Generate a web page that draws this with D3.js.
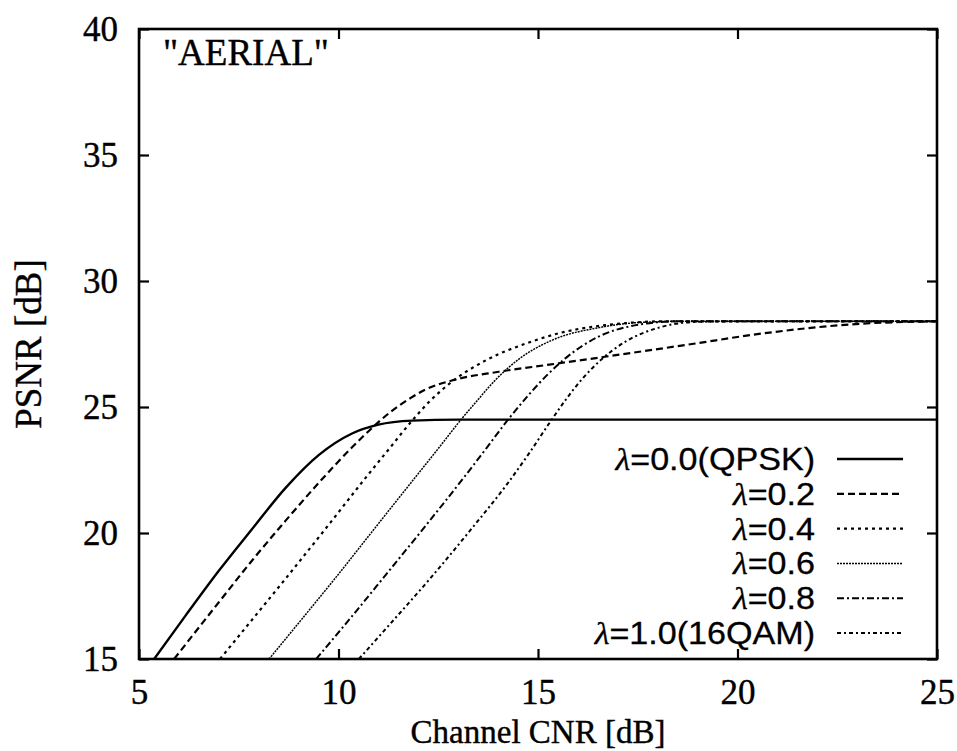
<!DOCTYPE html>
<html>
<head>
<meta charset="utf-8">
<script src="https://cdn.jsdelivr.net/npm/d3@7/dist/d3.min.js"></script>
<style>
  html, body { margin: 0; padding: 0; background: #fff; }
  svg { display: block; }
</style>
</head>
<body>
<svg id="chart" width="957" height="751"></svg>
<script>
// Channel CNR [dB] vs PSNR [dB] for the "AERIAL" image, one curve per lambda
const xTicks = [5, 10, 15, 20, 25];
const yTicks = [15, 20, 25, 30, 35, 40];

const seriesLabels = ["=0.0(QPSK)", "=0.2", "=0.4", "=0.6", "=0.8", "=1.0(16QAM)"];

const lambda00 = [[5.38,15.0],[6.18,16.75],[7.0,18.5],[7.83,20.15],[8.68,21.8],[9.51,23.1],[10.34,23.95],[11.0,24.3],[11.85,24.46],[13.0,24.5],[25,24.5]];
const lambda02 = [[5.88,15.0],[7.0,17.25],[7.83,18.9],[8.68,20.5],[9.51,22.0],[10.34,23.4],[10.76,24.05],[11.3,24.8],[11.8,25.35],[12.19,25.7],[12.84,26.05],[14.02,26.4],[15.28,26.68],[16.53,26.96],[18.86,27.5],[20.54,27.9],[23.05,28.3],[25,28.4]];
const lambda04 = [[7.03,15.0],[7.83,16.55],[8.68,18.2],[9.69,20.2],[10.71,22.25],[11.3,23.4],[11.84,24.45],[12.3,25.25],[12.84,26.0],[13.69,26.85],[14.85,27.6],[15.53,27.93],[16.53,28.22],[17.2,28.33],[18.2,28.4],[25,28.4]];
const lambda06 = [[8.26,15.0],[9.09,16.6],[9.94,18.25],[10.94,20.25],[11.97,22.3],[12.5,23.35],[13.02,24.4],[13.5,25.3],[13.95,26.1],[14.52,26.9],[15.35,27.65],[16.53,28.15],[17.5,28.35],[18.5,28.4],[25,28.4]];
const lambda08 = [[9.44,15.0],[10.34,16.7],[11.19,18.35],[12.19,20.3],[13.19,22.3],[13.7,23.35],[14.2,24.4],[14.75,25.45],[15.28,26.35],[15.7,26.95],[16.53,27.8],[17.3,28.2],[18.5,28.4],[25,28.4]];
const lambda10 = [[10.51,15.0],[11.3,16.4],[12.3,18.2],[13.35,20.2],[14.23,21.95],[14.75,23.1],[15.28,24.35],[15.7,25.3],[16.1,26.1],[16.6,26.9],[17.2,27.6],[18.03,28.15],[19.0,28.38],[20.0,28.4],[25,28.4]];

const seriesData = [lambda00, lambda02, lambda04, lambda06, lambda08, lambda10];

// stroke styles per curve (gnuplot-like line types)
const styles = [
  { dash: null,          width: 2.4 },
  { dash: "7,4",         width: 2.2 },
  { dash: "3,4",         width: 2.2 },
  { dash: "2,1",         width: 1.5 },
  { dash: "7,3,2,3",     width: 2.0 },
  { dash: "4,3,2,3",     width: 2.0 }
];

const svg = d3.select("#chart");
const plotLeft = 139, plotRight = 937, plotTop = 29, plotBottom = 659;

const x = d3.scaleLinear().domain([5, 25]).range([plotLeft, plotRight]);
const y = d3.scaleLinear().domain([15, 40]).range([plotBottom, plotTop]);

const serif = "'Liberation Serif', 'Times New Roman', serif";
const sans = "'Liberation Sans', Arial, Helvetica, sans-serif";
const tickLen = 10;
const ink = "#000";

function styleAxis(g, showLabels) {
  g.select(".domain").remove();
  g.selectAll(".tick line").attr("stroke", ink).attr("stroke-width", 2.2);
  g.selectAll(".tick text")
    .attr("font-family", serif)
    .attr("font-size", 35)
    .attr("fill", ink)
    .attr("stroke", ink).attr("stroke-width", 0.4)
    .style("display", showLabels ? null : "none");
}

// bottom / left axes with labels, top / right mirrored ticks
svg.append("g")
  .attr("transform", `translate(0,${plotBottom})`)
  .call(d3.axisBottom(x).tickValues(xTicks).tickFormat(d3.format("d")).tickSize(-tickLen).tickPadding(20))
  .call(g => styleAxis(g, true));

svg.append("g")
  .attr("transform", `translate(${plotLeft},0)`)
  .call(d3.axisLeft(y).tickValues(yTicks).tickFormat(d3.format("d")).tickSize(-tickLen).tickPadding(21))
  .call(g => styleAxis(g, true));

svg.append("g")
  .attr("transform", `translate(0,${plotTop})`)
  .call(d3.axisTop(x).tickValues(xTicks).tickSize(-tickLen))
  .call(g => styleAxis(g, false));

svg.append("g")
  .attr("transform", `translate(${plotRight},0)`)
  .call(d3.axisRight(y).tickValues(yTicks).tickSize(-tickLen))
  .call(g => styleAxis(g, false));

// plot frame
svg.append("rect")
  .attr("x", plotLeft).attr("y", plotTop)
  .attr("width", plotRight - plotLeft).attr("height", plotBottom - plotTop)
  .attr("fill", "none").attr("stroke", ink).attr("stroke-width", 2.6);

// curves, clipped to the frame
svg.append("clipPath").attr("id", "plotclip")
  .append("rect").attr("x", plotLeft).attr("y", plotTop)
  .attr("width", plotRight - plotLeft).attr("height", plotBottom - plotTop);

const line = d3.line()
  .x(d => x(d[0]))
  .y(d => y(d[1]))
  .curve(d3.curveMonotoneX);

const curves = svg.append("g").attr("clip-path", "url(#plotclip)");
seriesData.forEach((data, i) => {
  curves.append("path")
    .datum(data)
    .attr("d", line)
    .attr("fill", "none")
    .attr("stroke", ink)
    .attr("stroke-width", styles[i].width)
    .attr("stroke-dasharray", styles[i].dash);
});

// title inside the frame
svg.append("text")
  .attr("x", 163).attr("y", 65)
  .attr("font-family", serif)
  .attr("font-size", 37)
  .attr("fill", ink)
  .attr("stroke", ink).attr("stroke-width", 0.4)
  .text('"AERIAL"');

// legend: right-aligned labels, slightly widened, with a line sample each
const legendRowY = d3.scaleLinear().domain([0, 5]).range([459, 633]);
const legend = svg.append("g");
seriesLabels.forEach((label, i) => {
  const yy = legendRowY(i);
  const t = legend.append("g")
    .attr("transform", `translate(815,${yy + 11}) scale(1.1,1)`)
    .append("text")
    .attr("x", 0).attr("y", 0)
    .attr("text-anchor", "end")
    .attr("font-family", sans)
    .attr("font-size", 31)
    .attr("fill", ink)
    .attr("stroke", ink).attr("stroke-width", 0.3);
  t.append("tspan").attr("font-family", serif).attr("font-style", "italic").text("λ");
  t.append("tspan").text(label);
  legend.append("line")
    .attr("x1", 837).attr("x2", 903)
    .attr("y1", yy).attr("y2", yy)
    .attr("stroke", ink)
    .attr("stroke-width", styles[i].width)
    .attr("stroke-dasharray", styles[i].dash);
});

// axis titles
svg.append("text")
  .attr("x", (plotLeft + plotRight) / 2).attr("y", 743)
  .attr("text-anchor", "middle")
  .attr("font-family", serif)
  .attr("font-size", 33)
  .attr("fill", ink)
  .attr("stroke", ink).attr("stroke-width", 0.4)
  .text("Channel CNR [dB]");

svg.append("text")
  .attr("transform", `translate(41,${(plotTop + plotBottom) / 2}) rotate(-90)`)
  .attr("text-anchor", "middle")
  .attr("font-family", serif)
  .attr("font-size", 37)
  .attr("fill", ink)
  .attr("stroke", ink).attr("stroke-width", 0.4)
  .text("PSNR [dB]");
</script>
</body>
</html>
